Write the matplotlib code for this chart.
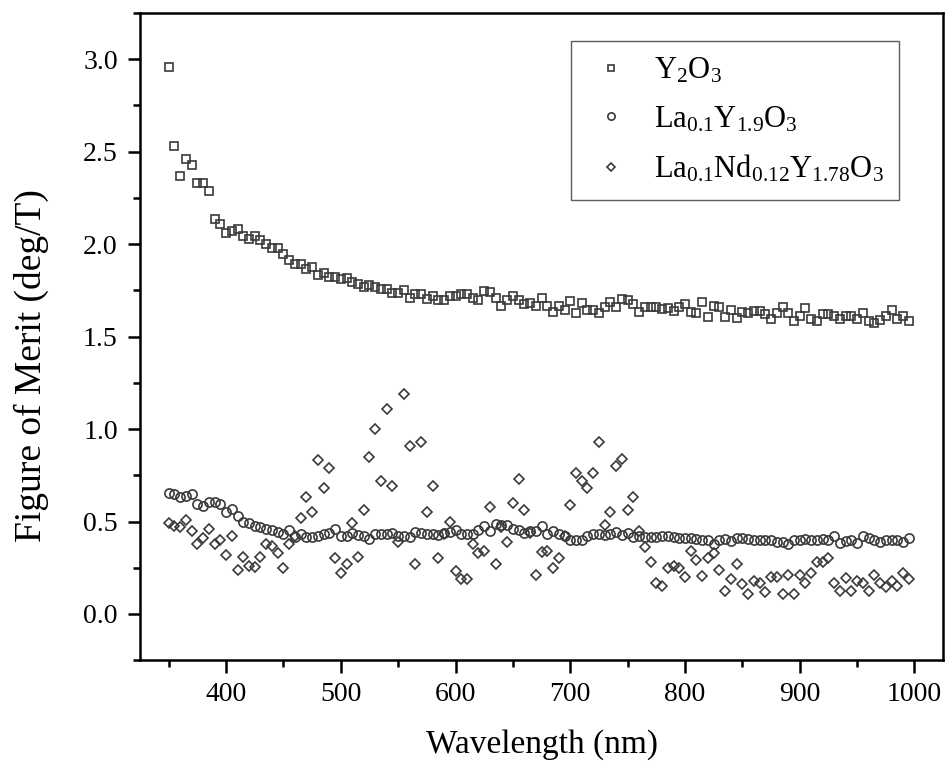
import numpy as np
import matplotlib
matplotlib.use("Agg")
import matplotlib.pyplot as plt
from matplotlib.ticker import MultipleLocator

plt.rcParams['font.family'] = ['Liberation Serif', 'DejaVu Serif']
plt.rcParams['mathtext.fontset'] = 'custom'
plt.rcParams['mathtext.rm'] = 'Liberation Serif'
plt.rcParams['mathtext.it'] = 'Liberation Serif:italic'

wavelength = np.arange(350, 1000, 5)

y2o3 = [
    2.96, 2.53, 2.37, 2.46, 2.43, 2.33, 2.33, 2.29, 2.135, 2.11,
    2.06, 2.07, 2.08, 2.045, 2.03, 2.045, 2.02, 2.00, 1.98, 1.98,
    1.945, 1.915, 1.89, 1.89, 1.865, 1.875, 1.835, 1.845, 1.82, 1.825,
    1.81, 1.815, 1.795, 1.785, 1.77, 1.78, 1.77, 1.76, 1.755, 1.735,
    1.735, 1.75, 1.71, 1.73, 1.73, 1.705, 1.72, 1.70, 1.70, 1.72,
    1.72, 1.73, 1.73, 1.71, 1.70, 1.745, 1.74, 1.71, 1.665, 1.70,
    1.72, 1.70, 1.675, 1.68, 1.665, 1.71, 1.665, 1.635, 1.665, 1.645,
    1.695, 1.625, 1.68, 1.645, 1.645, 1.625, 1.66, 1.685, 1.66, 1.705,
    1.70, 1.675, 1.635, 1.66, 1.66, 1.66, 1.65, 1.652, 1.64, 1.66,
    1.675, 1.635, 1.63, 1.685, 1.605, 1.665, 1.66, 1.607, 1.645, 1.60,
    1.635, 1.625, 1.64, 1.64, 1.623, 1.596, 1.63, 1.66, 1.626, 1.587,
    1.614, 1.652, 1.596, 1.582, 1.62, 1.62, 1.614, 1.596, 1.614, 1.614,
    1.596, 1.626, 1.587, 1.572, 1.59, 1.614, 1.644, 1.596, 1.614, 1.587,
]

la_y = [
    0.655, 0.65, 0.63, 0.64, 0.65, 0.595, 0.585, 0.605, 0.605, 0.595,
    0.552, 0.565, 0.53, 0.50, 0.49, 0.477, 0.471, 0.462, 0.453, 0.444,
    0.432, 0.453, 0.417, 0.435, 0.417, 0.417, 0.42, 0.435, 0.44, 0.457,
    0.42, 0.42, 0.44, 0.425, 0.42, 0.408, 0.432, 0.432, 0.432, 0.44,
    0.42, 0.42, 0.417, 0.441, 0.44, 0.435, 0.432, 0.426, 0.44, 0.445,
    0.453, 0.432, 0.432, 0.435, 0.453, 0.475, 0.45, 0.489, 0.48, 0.48,
    0.462, 0.453, 0.44, 0.45, 0.45, 0.477, 0.435, 0.45, 0.43, 0.42,
    0.40, 0.40, 0.40, 0.42, 0.43, 0.43, 0.425, 0.435, 0.445, 0.425,
    0.44, 0.417, 0.42, 0.417, 0.417, 0.417, 0.42, 0.42, 0.417, 0.413,
    0.413, 0.41, 0.405, 0.40, 0.40, 0.38, 0.40, 0.405, 0.395, 0.41,
    0.41, 0.405, 0.40, 0.40, 0.40, 0.40, 0.39, 0.39, 0.38, 0.40,
    0.40, 0.403, 0.40, 0.40, 0.403, 0.40, 0.42, 0.385, 0.395, 0.40,
    0.385, 0.42, 0.41, 0.40, 0.39, 0.40, 0.40, 0.40, 0.39, 0.41,
]

la_nd_y = [
    0.49, 0.475, 0.47, 0.51, 0.45, 0.38, 0.41, 0.46, 0.38, 0.40,
    0.32, 0.42, 0.24, 0.31, 0.26, 0.255, 0.31, 0.38, 0.37, 0.33,
    0.25, 0.38, 0.42, 0.52, 0.63, 0.55, 0.83, 0.68, 0.79, 0.30,
    0.22, 0.27, 0.49, 0.31, 0.56, 0.85, 1.00, 0.72, 1.11, 0.69,
    0.39, 1.19, 0.91, 0.27, 0.93, 0.55, 0.69, 0.30, 0.43, 0.50,
    0.23, 0.19, 0.19, 0.38, 0.33, 0.34, 0.58, 0.27, 0.47, 0.39,
    0.60, 0.73, 0.56, 0.44, 0.21, 0.335, 0.34, 0.25, 0.305, 0.42,
    0.59, 0.76, 0.72, 0.68, 0.76, 0.93, 0.48, 0.55, 0.80, 0.84,
    0.56, 0.63, 0.45, 0.36, 0.28, 0.17, 0.15, 0.25, 0.26, 0.25,
    0.20, 0.34, 0.29, 0.205, 0.30, 0.33, 0.24, 0.125, 0.19, 0.27,
    0.16, 0.11, 0.18, 0.165, 0.12, 0.20, 0.20, 0.11, 0.21, 0.11,
    0.21, 0.165, 0.22, 0.28, 0.28, 0.30, 0.165, 0.125, 0.195, 0.125,
    0.18, 0.165, 0.125, 0.21, 0.165, 0.145, 0.18, 0.15, 0.22, 0.19,
]

labels = [r'$\mathregular{Y_2O_3}$',
          r'$\mathregular{La_{0.1}Y_{1.9}O_3}$',
          r'$\mathregular{La_{0.1}Nd_{0.12}Y_{1.78}O_3}$']

x_ticks = [400, 500, 600, 700, 800, 900, 1000]
y_ticks = [0.0, 0.5, 1.0, 1.5, 2.0, 2.5, 3.0]

fig = plt.figure(figsize=(9.46, 7.65), dpi=100)
ax = fig.add_axes([0.148, 0.137, 0.849, 0.846])

ec = '#3a3a3a'
ax.plot(wavelength, y2o3, linestyle='none', marker='s', markersize=5.8,
        markerfacecolor='none', markeredgecolor=ec, markeredgewidth=1.2, label=labels[0])
ax.plot(wavelength, la_y, linestyle='none', marker='o', markersize=6.6,
        markerfacecolor='none', markeredgecolor=ec, markeredgewidth=1.2, label=labels[1])
ax.plot(wavelength, la_nd_y, linestyle='none', marker='D', markersize=5.6,
        markerfacecolor='none', markeredgecolor=ec, markeredgewidth=1.2, label=labels[2])

ax.set_xlim(325, 1025)
ax.set_ylim(-0.25, 3.25)
ax.set_xticks(x_ticks)
ax.set_yticks(y_ticks)
ax.set_yticklabels([f'{v:.1f}' for v in y_ticks])
ax.xaxis.set_minor_locator(MultipleLocator(50))
ax.yaxis.set_minor_locator(MultipleLocator(0.25))
ax.tick_params(which='major', direction='out', length=9, width=1.8, labelsize=20, pad=7)
ax.tick_params(which='minor', direction='out', length=5, width=1.8)
ax.tick_params(top=False, right=False, which='both')
for s in ax.spines.values():
    s.set_linewidth(1.8)

ax.set_xlabel('Wavelength (nm)', fontsize=24, labelpad=16)
ax.set_ylabel('Figure of Merit (deg/T)', fontsize=27)
ax.yaxis.set_label_coords(-0.113, 0.455)

leg = ax.legend(loc='upper right', bbox_to_anchor=(0.945, 0.957), borderaxespad=0,
                fontsize=22, frameon=True, fancybox=False, edgecolor='#333333',
                markerscale=0.8, handletextpad=0.6, borderpad=0.5,
                labelspacing=0.62, handlelength=1.6)
leg.get_frame().set_linewidth(1.0)

fig.savefig('out.png', dpi=100)
